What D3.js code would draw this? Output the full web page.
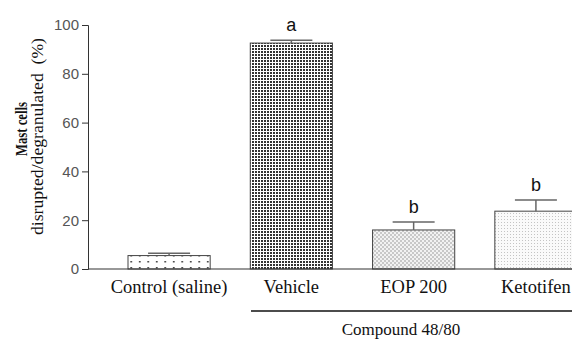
<!DOCTYPE html>
<html>
<head>
<meta charset="utf-8">
<script src="https://cdn.jsdelivr.net/npm/d3@7"></script>
<style>
  body { margin: 0; background: #fff; }
  svg { display: block; }
</style>
</head>
<body>
<div id="chart"></div>
<script>
const categories = ["Control (saline)", "Vehicle", "EOP 200", "Ketotifen"];
const means = [5.5, 92.6, 16, 23.7];
const errors = [1.0, 1.2, 3.3, 4.6];
const letters = ["", "a", "b", "b"];
const yTicks = [0, 20, 40, 60, 80, 100];

const width = 572;
const height = 342;

const svg = d3.select("#chart")
  .append("svg")
  .attr("width", width)
  .attr("height", height);

const defs = svg.append("defs");

// sparse dots (control)
const p1 = defs.append("pattern").attr("id", "pSparse")
  .attr("patternUnits", "userSpaceOnUse").attr("width", 8.5).attr("height", 6)
  .attr("y", 1);
p1.append("rect").attr("width", 8.5).attr("height", 6).attr("fill", "#fff");
p1.append("rect").attr("x", 3).attr("y", 2).attr("width", 1.5).attr("height", 1.5).attr("fill", "#222");

// dense dots (vehicle)
const p2 = defs.append("pattern").attr("id", "pDense")
  .attr("patternUnits", "userSpaceOnUse").attr("width", 3).attr("height", 3);
p2.append("rect").attr("width", 3).attr("height", 3).attr("fill", "#fff");
p2.append("rect").attr("width", 2).attr("height", 2).attr("fill", "#333");

// checker (EOP)
const p3 = defs.append("pattern").attr("id", "pCheck")
  .attr("patternUnits", "userSpaceOnUse").attr("width", 4).attr("height", 4);
p3.append("rect").attr("width", 4).attr("height", 4).attr("fill", "#f2f2f2");
p3.append("rect").attr("width", 2).attr("height", 2).attr("fill", "#c8c8c8");
p3.append("rect").attr("x", 2).attr("y", 2).attr("width", 2).attr("height", 2).attr("fill", "#c8c8c8");

// fine grid (ketotifen)
const p4 = defs.append("pattern").attr("id", "pFine")
  .attr("patternUnits", "userSpaceOnUse").attr("width", 3).attr("height", 3);
p4.append("rect").attr("width", 3).attr("height", 3).attr("fill", "#fafafa");
p4.append("rect").attr("width", 1).attr("height", 1).attr("fill", "#c4c4c4");

const fills = ["url(#pSparse)", "url(#pDense)", "url(#pCheck)", "url(#pFine)"];

const xScale = d3.scaleBand().domain(categories).range([128, 577])
  .paddingInner(0.328).paddingOuter(0);
const yScale = d3.scaleLinear().domain([0, 100]).range([269, 25]);

// bars
svg.append("g").selectAll("rect")
  .data(categories)
  .enter()
  .append("rect")
  .attr("x", d => xScale(d))
  .attr("y", (d, i) => yScale(means[i]))
  .attr("width", xScale.bandwidth())
  .attr("height", (d, i) => yScale(0) - yScale(means[i]))
  .attr("fill", (d, i) => fills[i])
  .attr("stroke", "#444")
  .attr("stroke-width", 1);

// error bars
const err = svg.append("g").attr("stroke", "#666").attr("stroke-width", 1.5);
categories.forEach((c, i) => {
  const cx = xScale(c) + xScale.bandwidth() / 2;
  err.append("line")
    .attr("x1", cx).attr("x2", cx)
    .attr("y1", yScale(means[i])).attr("y2", yScale(means[i] + errors[i]));
  err.append("line")
    .attr("x1", cx - 21).attr("x2", cx + 21)
    .attr("y1", yScale(means[i] + errors[i])).attr("y2", yScale(means[i] + errors[i]));
  if (letters[i]) {
    svg.append("text")
      .attr("x", cx)
      .attr("y", yScale(means[i] + errors[i]) - 9)
      .attr("text-anchor", "middle")
      .attr("font-family", "Liberation Sans, Arial, sans-serif")
      .attr("font-size", 18)
      .attr("fill", "#111")
      .text(letters[i]);
  }
});

// y axis
const yAxis = d3.axisLeft(yScale).tickValues(yTicks).tickSize(6).tickPadding(3);
const gy = svg.append("g")
  .attr("transform", "translate(88, 0)")
  .call(yAxis);
gy.select(".domain").attr("stroke", "#333");
gy.selectAll(".tick line").attr("stroke", "#333");
gy.selectAll(".tick text")
  .attr("font-family", "Liberation Sans, Arial, sans-serif")
  .attr("font-size", 15)
  .attr("fill", "#555");

// x axis line
svg.append("line")
  .attr("x1", 88).attr("x2", width)
  .attr("y1", yScale(0)).attr("y2", yScale(0))
  .attr("stroke", "#333").attr("stroke-width", 1.2);

// category labels
svg.append("g").selectAll("text")
  .data(categories)
  .enter()
  .append("text")
  .attr("x", d => xScale(d) + xScale.bandwidth() / 2)
  .attr("y", 293)
  .attr("text-anchor", "middle")
  .attr("font-family", "Liberation Serif, Times New Roman, serif")
  .attr("font-size", 18.5)
  .attr("fill", "#111")
  .text(d => d);

// compound bracket
svg.append("line")
  .attr("x1", 251).attr("x2", width)
  .attr("y1", 311).attr("y2", 311)
  .attr("stroke", "#111").attr("stroke-width", 1.5);
svg.append("text")
  .attr("x", 401).attr("y", 335)
  .attr("text-anchor", "middle")
  .attr("font-family", "Liberation Serif, Times New Roman, serif")
  .attr("font-size", 17)
  .attr("fill", "#111")
  .text("Compound 48/80");

// y label
const yl = svg.append("text")
  .attr("transform", "rotate(-90)")
  .attr("text-anchor", "middle")
  .attr("font-family", "Liberation Serif, Times New Roman, serif")
  .attr("fill", "#111");
yl.append("tspan")
  .attr("x", -129).attr("y", 27)
  .attr("font-size", 16).attr("font-weight", "bold")
  .attr("textLength", 54).attr("lengthAdjust", "spacingAndGlyphs")
  .text("Mast cells");
yl.append("tspan")
  .attr("x", -136.5).attr("y", 43)
  .attr("font-size", 17)
  .attr("textLength", 197).attr("lengthAdjust", "spacingAndGlyphs")
  .attr("xml:space", "preserve")
  .text("disrupted/degranulated  (%)");
</script>
</body>
</html>
